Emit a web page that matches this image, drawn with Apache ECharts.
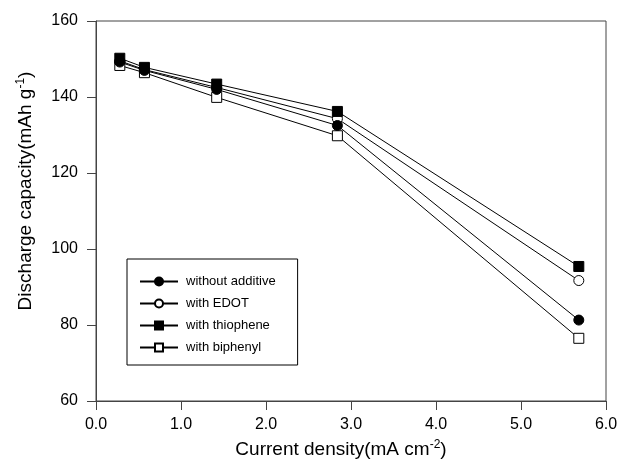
<!DOCTYPE html>
<html>
<head>
<meta charset="utf-8">
<script src="https://cdn.jsdelivr.net/npm/echarts@6/dist/echarts.min.js"></script>
<style>
  html, body { margin: 0; padding: 0; background: #fff; }
  #chart { width: 621px; height: 464px; }
</style>
</head>
<body>
<div id="chart"></div>
<script>
// current density (mA cm-2)
const currentDensity = [0.28, 0.57, 1.42, 2.84, 5.68];

// discharge capacity (mAh g-1)
const withoutAdditive = [149.2, 147.0, 142.0, 132.5, 81.3];
const withEDOT = [149.5, 147.2, 142.5, 134.3, 91.7];
const withThiophene = [150.2, 147.8, 143.4, 136.2, 95.4];
const withBiphenyl = [148.3, 146.4, 139.9, 129.8, 76.5];

const seriesNames = ['without additive', 'with EDOT', 'with thiophene', 'with biphenyl'];

const xTicks = [0, 1, 2, 3, 4, 5, 6];
const yTicks = [60, 80, 100, 120, 140, 160];

const font = 'Liberation Sans, Arial, sans-serif';

function pairs(ys) {
  return currentDensity.map((x, i) => [x, ys[i]]);
}

function makeSeries(name, ys, symbol, filled) {
  return {
    name: name,
    type: 'line',
    data: pairs(ys),
    symbol: symbol,
    symbolSize: 10,
    showSymbol: true,
    lineStyle: { color: '#000', width: 1 },
    itemStyle: {
      color: filled ? '#000' : '#fff',
      borderColor: '#000',
      borderWidth: 1
    },
    emphasis: { disabled: true },
    z: filled ? 3 : 2
  };
}

const nameRich = {
  t: { fontFamily: font, fontSize: 19, color: '#000' },
  s: { fontFamily: font, fontSize: 12, color: '#000', verticalAlign: 'top', padding: [0, 0, 9, 0] }
};

const chart = echarts.init(document.getElementById('chart'));

const option = {
  animation: false,
  backgroundColor: '#fff',
  textStyle: { fontFamily: font },
  grid: {
    left: 96,
    right: 15,
    top: 21,
    bottom: 61,
    show: true,
    borderColor: '#444',
    borderWidth: 1
  },
  legend: {
    orient: 'vertical',
    left: 127,
    top: 259,
    data: seriesNames,
    itemWidth: 38,
    itemHeight: 10,
    itemGap: 9,
    padding: [16, 22, 11, 12],
    borderColor: '#000',
    borderWidth: 1,
    backgroundColor: '#fff',
    textStyle: { fontFamily: font, fontSize: 13, color: '#000', padding: [0, 0, 0, 3] }
  },
  xAxis: {
    type: 'value',
    min: xTicks[0],
    max: xTicks[xTicks.length - 1],
    interval: 1,
    name: '{t|Current density(mA cm}{s|-2}{t|)}',
    nameLocation: 'middle',
    nameGap: 38,
    nameTextStyle: { rich: nameRich, padding: [0, 20, 0, 0] },
    axisLine: { show: true, lineStyle: { color: '#444' } },
    axisTick: { show: true, length: 9, lineStyle: { color: '#444' } },
    axisLabel: {
      margin: 16,
      fontSize: 16,
      color: '#000',
      formatter: v => v.toFixed(1)
    },
    splitLine: { show: false }
  },
  yAxis: {
    type: 'value',
    min: yTicks[0],
    max: yTicks[yTicks.length - 1],
    interval: 20,
    name: '{t|Discharge capacity(mAh g}{s|-1}{t|)}',
    nameLocation: 'middle',
    nameRotate: 90,
    nameGap: 60,
    nameTextStyle: { rich: nameRich, padding: [0, 0, 0, 40] },
    axisLine: { show: true, lineStyle: { color: '#444' } },
    axisTick: { show: true, length: 9, lineStyle: { color: '#444' } },
    axisLabel: { margin: 18, fontSize: 16, color: '#000' },
    splitLine: { show: false }
  },
  series: [
    makeSeries(seriesNames[0], withoutAdditive, 'circle', true),
    makeSeries(seriesNames[1], withEDOT, 'circle', false),
    makeSeries(seriesNames[2], withThiophene, 'rect', true),
    makeSeries(seriesNames[3], withBiphenyl, 'rect', false)
  ]
};

chart.setOption(option);
</script>
</body>
</html>
